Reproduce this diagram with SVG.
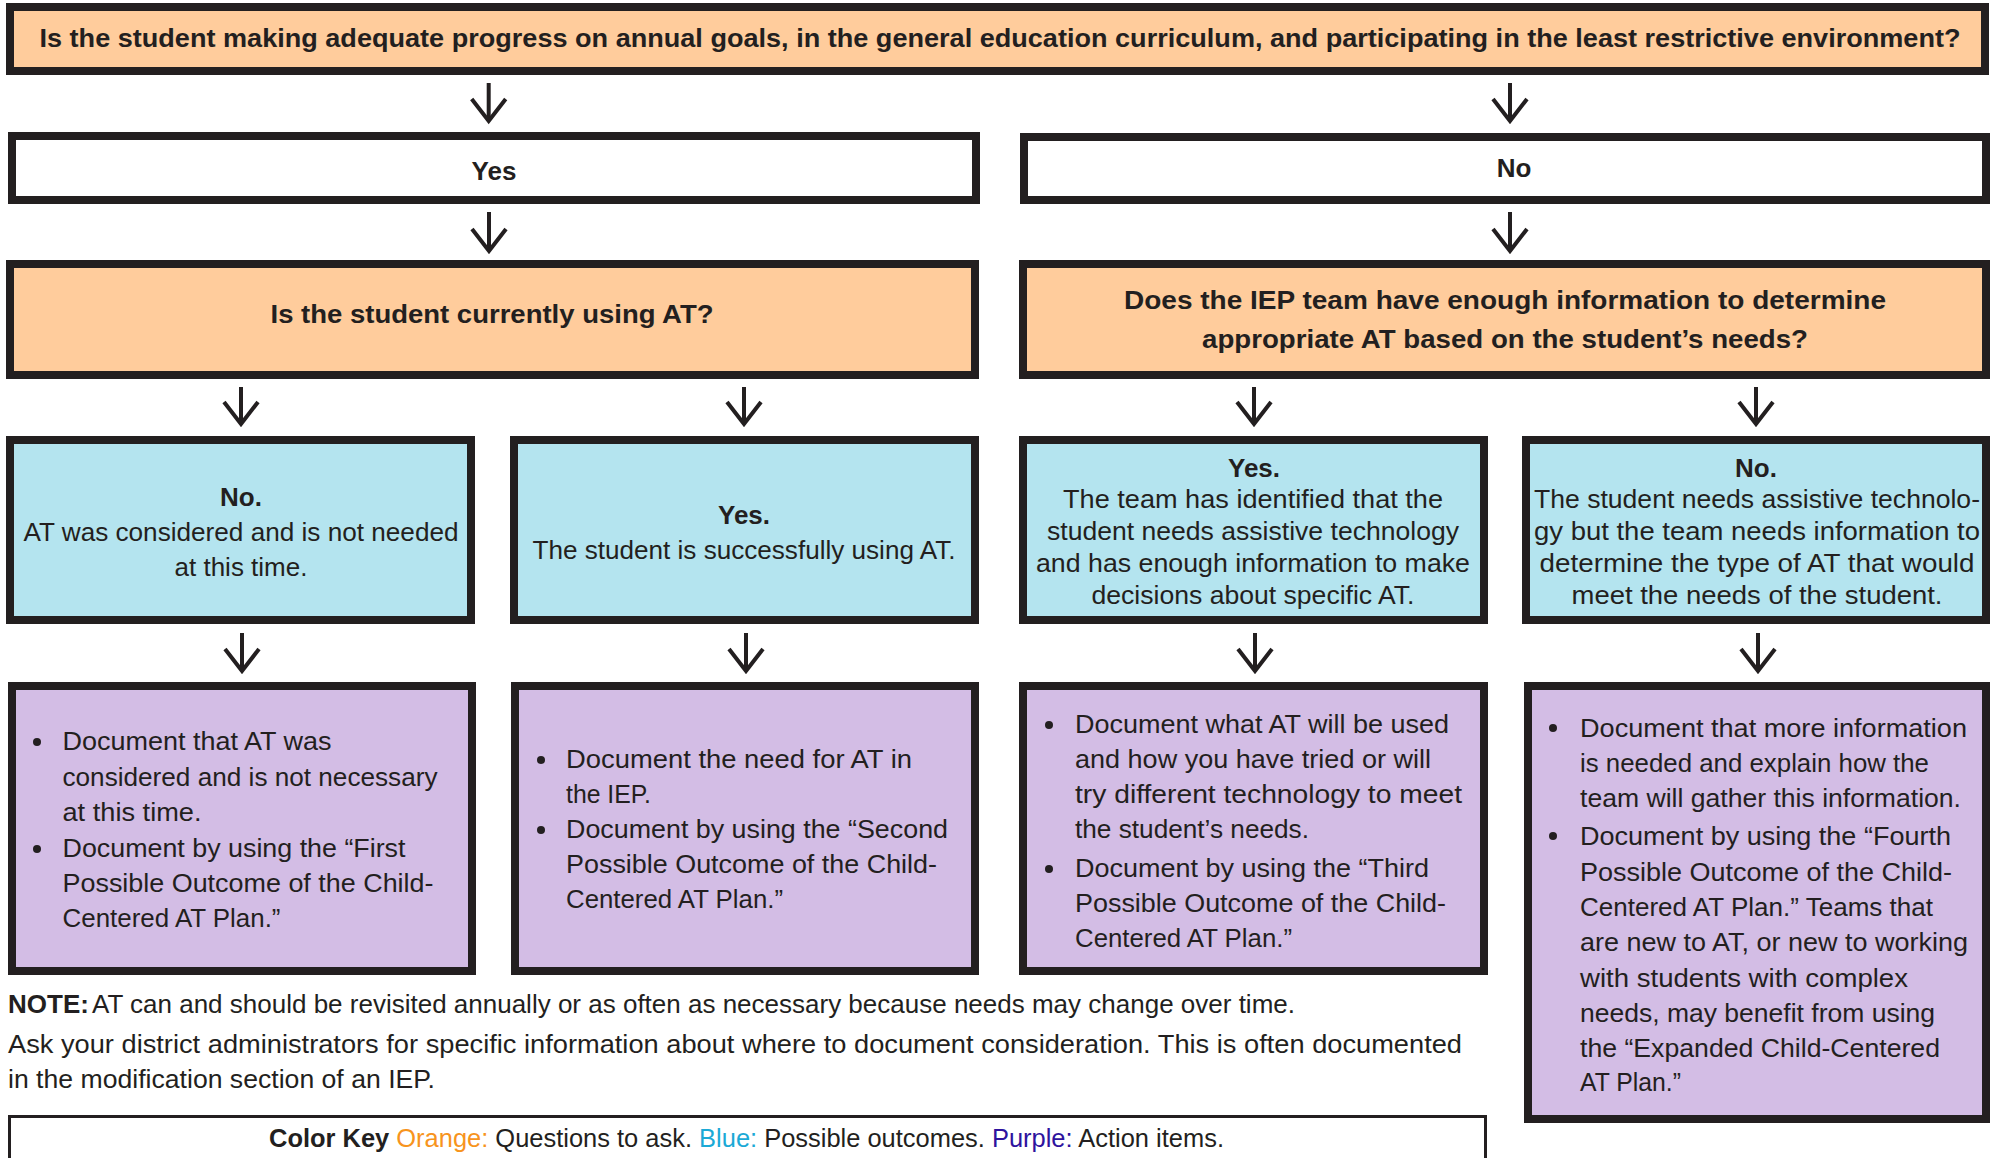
<svg xmlns="http://www.w3.org/2000/svg" width="1993" height="1158" viewBox="0 0 1993 1158">
<style>
.box{stroke:#231F20;stroke-width:8}
.q{fill:#FFCC9C}
.o{fill:#B4E4EF}
.a{fill:#D3BDE5}
.w{fill:#FFFFFF}
text{font-family:"Liberation Sans",Arial,sans-serif;fill:#231F20}
.b{font-weight:bold;font-size:26px}
.t{font-size:26px}
.c{text-anchor:middle}
.arr{stroke:#231F20;stroke-width:4;fill:none;marker-end:url(#head)}
.bul{fill:#231F20}
</style>
<defs>
<marker id="head" markerUnits="userSpaceOnUse" viewBox="0 0 24 36" refX="22" refY="18" markerWidth="24" markerHeight="36" orient="auto" overflow="visible">
<path d="M0,1 L22,18 L0,35" fill="none" stroke="#231F20" stroke-width="4"/>
</marker>
</defs>
<rect width="1993" height="1158" fill="#FFFFFF"/>

<g id="connectors">
<path class="arr" d="M488.7,83 V121"/>
<path class="arr" d="M1510,83 V121"/>
<path class="arr" d="M489,212 V251"/>
<path class="arr" d="M1510,212 V251"/>
<path class="arr" d="M241,387 V424"/>
<path class="arr" d="M744,387 V424"/>
<path class="arr" d="M1254,387 V424"/>
<path class="arr" d="M1756,387 V424"/>
<path class="arr" d="M242,633 V671"/>
<path class="arr" d="M746,633 V671"/>
<path class="arr" d="M1255,633 V671"/>
<path class="arr" d="M1758,633 V671"/>
</g>

<g id="q-main">
<rect class="box q" x="10" y="7" width="1975" height="64"/>
<text class="b c" x="1000" y="47" textLength="1921" lengthAdjust="spacingAndGlyphs">Is the student making adequate progress on annual goals, in the general education curriculum, and participating in the least restrictive environment?</text>
</g>

<g id="yes">
<rect class="box w" x="12" y="136" width="964" height="64"/>
<text class="b c" x="494" y="180">Yes</text>
</g>

<g id="no">
<rect class="box w" x="1024" y="137" width="962" height="63"/>
<text class="b c" x="1514" y="177">No</text>
</g>

<g id="q-using">
<rect class="box q" x="10" y="264" width="965" height="111"/>
<text class="b c" x="492" y="323" textLength="443" lengthAdjust="spacingAndGlyphs">Is the student currently using AT?</text>
</g>

<g id="q-info">
<rect class="box q" x="1023" y="264" width="963" height="111"/>
<text class="b c" x="1505" y="309" textLength="762" lengthAdjust="spacingAndGlyphs">Does the IEP team have enough information to determine</text>
<text class="b c" x="1505" y="348" textLength="606" lengthAdjust="spacingAndGlyphs">appropriate AT based on the student’s needs?</text>
</g>

<g id="o1">
<rect class="box o" x="10" y="440" width="461" height="180"/>
<text class="b c" x="241" y="506">No.</text>
<text class="t c" x="241" y="541" textLength="435" lengthAdjust="spacingAndGlyphs">AT was considered and is not needed</text>
<text class="t c" x="241" y="576">at this time.</text>
</g>

<g id="o2">
<rect class="box o" x="514" y="440" width="461" height="180"/>
<text class="b c" x="744" y="524">Yes.</text>
<text class="t c" x="744" y="559" textLength="423" lengthAdjust="spacingAndGlyphs">The student is successfully using AT.</text>
</g>

<g id="o3">
<rect class="box o" x="1023" y="440" width="461" height="180"/>
<text class="b c" x="1254" y="477">Yes.</text>
<text class="t c" x="1253" y="508" textLength="380" lengthAdjust="spacingAndGlyphs">The team has identified that the</text>
<text class="t c" x="1253" y="540" textLength="412" lengthAdjust="spacingAndGlyphs">student needs assistive technology</text>
<text class="t c" x="1253" y="572" textLength="434" lengthAdjust="spacingAndGlyphs">and has enough information to make</text>
<text class="t c" x="1253" y="604" textLength="323" lengthAdjust="spacingAndGlyphs">decisions about specific AT.</text>
</g>

<g id="o4">
<rect class="box o" x="1526" y="440" width="460" height="180"/>
<text class="b c" x="1756" y="477">No.</text>
<text class="t c" x="1757" y="508" textLength="446" lengthAdjust="spacingAndGlyphs">The student needs assistive technolo-</text>
<text class="t c" x="1757" y="540" textLength="446" lengthAdjust="spacingAndGlyphs">gy but the team needs information to</text>
<text class="t c" x="1757" y="572" textLength="435" lengthAdjust="spacingAndGlyphs">determine the type of AT that would</text>
<text class="t c" x="1757" y="604" textLength="371" lengthAdjust="spacingAndGlyphs">meet the needs of the student.</text>
</g>

<g id="a1">
<rect class="box a" x="12" y="686" width="460" height="285"/>
<circle class="bul" cx="37" cy="742" r="4"/>
<circle class="bul" cx="37" cy="849" r="4"/>
<text class="t" x="62.5" y="750" textLength="269" lengthAdjust="spacingAndGlyphs">Document that AT was</text>
<text class="t" x="62.5" y="786" textLength="375" lengthAdjust="spacingAndGlyphs">considered and is not necessary</text>
<text class="t" x="62.5" y="821" textLength="139" lengthAdjust="spacingAndGlyphs">at this time.</text>
<text class="t" x="62.5" y="857" textLength="343" lengthAdjust="spacingAndGlyphs">Document by using the “First</text>
<text class="t" x="62.5" y="892" textLength="371" lengthAdjust="spacingAndGlyphs">Possible Outcome of the Child-</text>
<text class="t" x="62.5" y="927" textLength="218" lengthAdjust="spacingAndGlyphs">Centered AT Plan.”</text>
</g>

<g id="a2">
<rect class="box a" x="515" y="686" width="460" height="285"/>
<circle class="bul" cx="541" cy="760" r="4"/>
<circle class="bul" cx="541" cy="830" r="4"/>
<text class="t" x="566" y="768" textLength="346" lengthAdjust="spacingAndGlyphs">Document the need for AT in</text>
<text class="t" x="566" y="803" textLength="85" lengthAdjust="spacingAndGlyphs">the IEP.</text>
<text class="t" x="566" y="838" textLength="382" lengthAdjust="spacingAndGlyphs">Document by using the “Second</text>
<text class="t" x="566" y="873" textLength="371" lengthAdjust="spacingAndGlyphs">Possible Outcome of the Child-</text>
<text class="t" x="566" y="908" textLength="217" lengthAdjust="spacingAndGlyphs">Centered AT Plan.”</text>
</g>

<g id="a3">
<rect class="box a" x="1023" y="686" width="461" height="285"/>
<circle class="bul" cx="1049" cy="725" r="4"/>
<circle class="bul" cx="1049" cy="869" r="4"/>
<text class="t" x="1075" y="733" textLength="374" lengthAdjust="spacingAndGlyphs">Document what AT will be used</text>
<text class="t" x="1075" y="768" textLength="356" lengthAdjust="spacingAndGlyphs">and how you have tried or will</text>
<text class="t" x="1075" y="803" textLength="387" lengthAdjust="spacingAndGlyphs">try different technology to meet</text>
<text class="t" x="1075" y="838" textLength="234" lengthAdjust="spacingAndGlyphs">the student’s needs.</text>
<text class="t" x="1075" y="877" textLength="354" lengthAdjust="spacingAndGlyphs">Document by using the “Third</text>
<text class="t" x="1075" y="912" textLength="371" lengthAdjust="spacingAndGlyphs">Possible Outcome of the Child-</text>
<text class="t" x="1075" y="947" textLength="217" lengthAdjust="spacingAndGlyphs">Centered AT Plan.”</text>
</g>

<g id="a4">
<rect class="box a" x="1528" y="686" width="458" height="433"/>
<circle class="bul" cx="1553" cy="728" r="4"/>
<circle class="bul" cx="1553" cy="836" r="4"/>
<text class="t" x="1580" y="737" textLength="387" lengthAdjust="spacingAndGlyphs">Document that more information</text>
<text class="t" x="1580" y="772" textLength="349" lengthAdjust="spacingAndGlyphs">is needed and explain how the</text>
<text class="t" x="1580" y="807" textLength="381" lengthAdjust="spacingAndGlyphs">team will gather this information.</text>
<text class="t" x="1580" y="845" textLength="371" lengthAdjust="spacingAndGlyphs">Document by using the “Fourth</text>
<text class="t" x="1580" y="881" textLength="372" lengthAdjust="spacingAndGlyphs">Possible Outcome of the Child-</text>
<text class="t" x="1580" y="916" textLength="353" lengthAdjust="spacingAndGlyphs">Centered AT Plan.” Teams that</text>
<text class="t" x="1580" y="951" textLength="388" lengthAdjust="spacingAndGlyphs">are new to AT, or new to working</text>
<text class="t" x="1580" y="987" textLength="328" lengthAdjust="spacingAndGlyphs">with students with complex</text>
<text class="t" x="1580" y="1022" textLength="355" lengthAdjust="spacingAndGlyphs">needs, may benefit from using</text>
<text class="t" x="1580" y="1057" textLength="360" lengthAdjust="spacingAndGlyphs">the “Expanded Child-Centered</text>
<text class="t" x="1580" y="1091" textLength="101" lengthAdjust="spacingAndGlyphs">AT Plan.”</text>
</g>

<g id="note">
<text class="t" y="1013"><tspan x="8" font-weight="bold">NOTE:</tspan><tspan x="92">AT can and should be revisited annually or as often as necessary because needs may change over time.</tspan></text>
<text class="t" x="8" y="1053" textLength="1454" lengthAdjust="spacingAndGlyphs">Ask your district administrators for specific information about where to document consideration. This is often documented</text>
<text class="t" x="8" y="1088" textLength="427" lengthAdjust="spacingAndGlyphs">in the modification section of an IEP.</text>
</g>

<g id="color-key">
<rect x="9.5" y="1116.5" width="1476" height="60" fill="#FFFFFF" stroke="#231F20" stroke-width="3"/>
<text class="t" x="269" y="1147" textLength="955" lengthAdjust="spacingAndGlyphs"><tspan font-weight="bold">Color Key</tspan> <tspan fill="#F7941D">Orange:</tspan> Questions to ask. <tspan fill="#1BA9D6">Blue:</tspan> Possible outcomes. <tspan fill="#2E139E">Purple:</tspan> Action items.</text>
</g>
</svg>
